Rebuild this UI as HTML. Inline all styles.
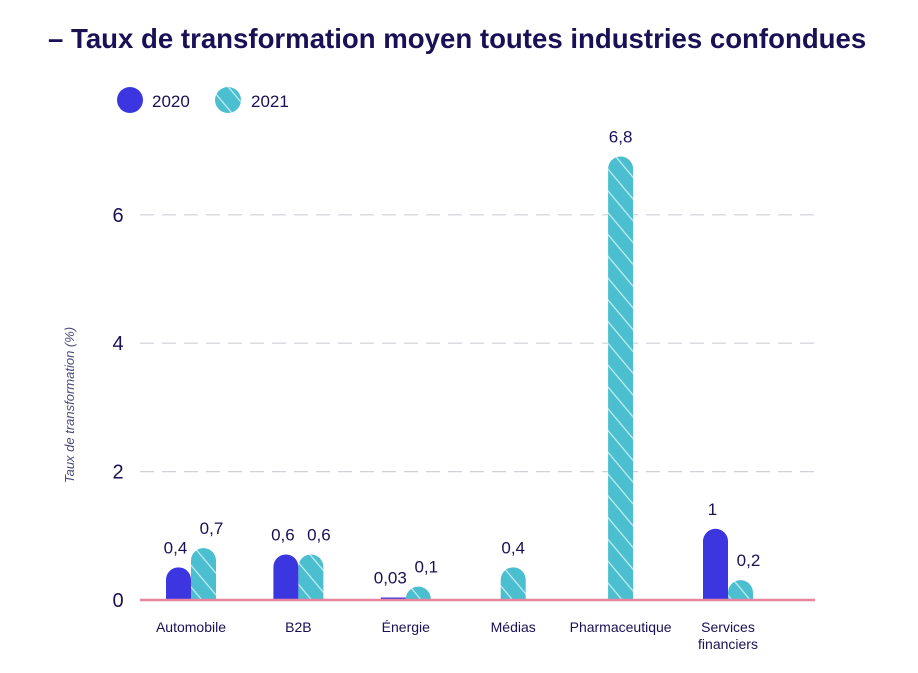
<!DOCTYPE html>
<html><head><meta charset="utf-8"><style>
body{margin:0;background:#fff;width:918px;height:668px;overflow:hidden;font-family:"Liberation Sans",sans-serif;}
</style></head><body>
<svg width="918" height="668" xmlns="http://www.w3.org/2000/svg">
<defs>
<pattern id="hatch" width="14" height="14" patternUnits="userSpaceOnUse" patternTransform="rotate(50)">
<rect width="14" height="14" fill="#4bbfcf"/><line x1="0" y1="7" x2="14" y2="7" stroke="#c9eff4" stroke-width="1.2"/>
</pattern>
</defs>
<text x="48" y="48" font-size="27.6" font-weight="bold" fill="#1a1055">– Taux de transformation moyen toutes industries confondues</text>
<g>
<circle cx="130" cy="100" r="13" fill="#3b36e0"/>
<text x="152" y="107" font-size="17" fill="#1a1055">2020</text>
<circle cx="228" cy="100" r="13" fill="url(#hatch)"/>
<text x="251" y="107" font-size="17" fill="#1a1055">2021</text>
</g>
<text transform="translate(74,405) rotate(-90)" text-anchor="middle" font-size="13" font-style="italic" fill="#4a4a7a">Taux de transformation (%)</text>
<g id="grid"></g><g id="bars"></g>
</svg>
<script>
const categories=["Automobile","B2B","Énergie","Médias","Pharmaceutique","Services financiers"];
const values2020=[0.4,0.6,0.03,null,null,1];
const values2021=[0.7,0.6,0.1,0.4,6.8,0.2];
const labels2020=["0,4","0,6","0,03","","","1"];
const labels2021=["0,7","0,6","0,1","0,4","6,8","0,2"];
const yTicks=[0,2,4,6];
const NS="http://www.w3.org/2000/svg";
const y0=600,pxPerUnit=64.2,x0=140,x1=815;
const y=v=>y0-v*pxPerUnit;
const cx=i=>191+i*107.4;
const grid=document.getElementById('grid'),bars=document.getElementById('bars');
function mk(tag,attrs,parent){const e=document.createElementNS(NS,tag);for(const k in attrs)e.setAttribute(k,attrs[k]);parent.appendChild(e);return e;}
yTicks.forEach(t=>{
 if(t>0){const l=mk('line',{x1:x0,x2:x1,y1:y(t),y2:y(t),stroke:'#cfcfd8','stroke-width':1.2,'stroke-dasharray':'14 8'},grid);
 
 }
 const tx=mk('text',{x:118,y:y(t)+7,'text-anchor':'middle','font-size':20,fill:'#1a1055'},grid);tx.textContent=t;
 
 
});
const bw=25;
function bar(v,lab,x,fill,name,dx){
 if(v==null)return;
 let h=v*pxPerUnit; if(v>=0.08)h+=7; h=Math.max(h,2.5);
 const r=v<0.08?0:Math.min(bw/2,h);
 const top=y0-h;
 const d=r>0?`M${x},${y0} L${x},${top+r} A${bw/2},${r} 0 0 1 ${x+bw},${top+r} L${x+bw},${y0} Z`:`M${x},${y0} L${x},${top} L${x+bw},${top} L${x+bw},${y0} Z`;
 const p=mk('path',{d:d,fill:fill},bars);
 
 
 const t=mk('text',{x:x+bw/2+dx,y:top-14,'text-anchor':'middle','font-size':17,fill:'#1a1055'},bars);t.textContent=lab;
 
 
}
categories.forEach((c,i)=>{
 const both=values2020[i]!=null&&values2021[i]!=null;
 const c0=cx(i);
 if(both){bar(values2020[i],labels2020[i],c0-bw,'#3b36e0','bar-2020-'+i,-3);bar(values2021[i],labels2021[i],c0,'url(#hatch)','bar-2021-'+i,8);}
 else{bar(values2020[i],labels2020[i],c0-bw/2,'#3b36e0','bar-2020-'+i,0);bar(values2021[i],labels2021[i],c0-bw/2,'url(#hatch)','bar-2021-'+i,0);}
 const words=c==="Services financiers"?["Services","financiers"]:[c];
 words.forEach((w,k)=>{const t=mk('text',{x:c0,y:632+k*17,'text-anchor':'middle','font-size':14,fill:'#1a1055'},bars);t.textContent=w;
 
 });
});
const base=mk('line',{x1:x0,x2:x1,y1:y0,y2:y0,stroke:'#e8849f','stroke-width':2.5},bars);


</script>
</body></html>
